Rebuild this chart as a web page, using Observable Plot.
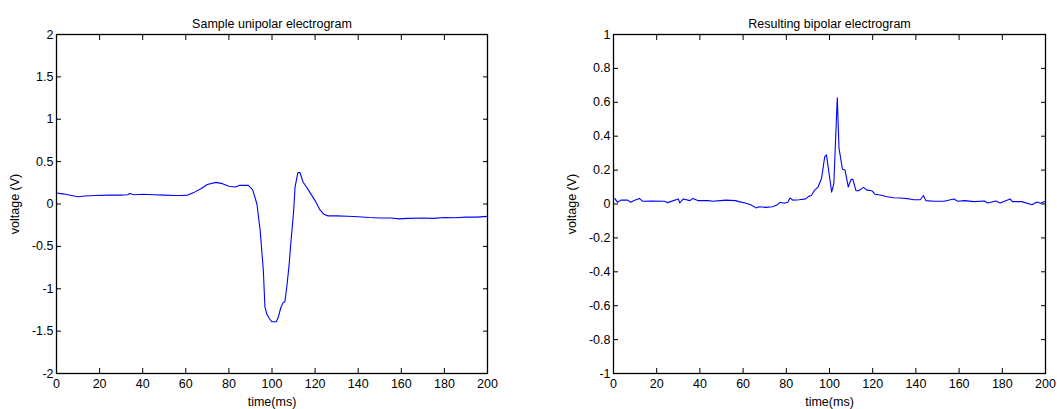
<!DOCTYPE html>
<html>
<head>
<meta charset="utf-8">
<script src="https://cdn.jsdelivr.net/npm/d3@7"></script>
<script src="https://cdn.jsdelivr.net/npm/@observablehq/plot@0.6"></script>
<style>
  html, body { margin: 0; padding: 0; background: #fff; }
  #wrap { display: flex; width: 1057px; height: 409px; }
  svg { font-family: "Liberation Sans", Arial, sans-serif; }
</style>
</head>
<body>
<div id="wrap"></div>
<script>
// ---- data ----
const uniTitle = "Sample unipolar electrogram";
const biTitle = "Resulting bipolar electrogram";
const xLabel = "time(ms)";
const yLabel = "voltage (V)";
const xTicks = [0, 20, 40, 60, 80, 100, 120, 140, 160, 180, 200];
const uniYTicks = [-2, -1.5, -1, -0.5, 0, 0.5, 1, 1.5, 2];
const biYTicks = [-1, -0.8, -0.6, -0.4, -0.2, 0, 0.2, 0.4, 0.6, 0.8, 1];

const uniTime = [0, 3, 7, 10, 13, 18, 25, 30, 33, 34, 36, 40, 45, 50, 55, 58, 61, 64, 67, 70, 74, 77, 80, 83, 85, 87, 89, 91, 93, 94.5, 96, 96.7, 97.6, 99, 100, 102, 103, 104, 105, 106, 107, 108, 108.6, 110, 110.7, 112, 113, 114.4, 116, 118, 120, 122, 124, 126, 130, 135, 140, 145, 150, 155, 159, 163, 170, 175, 180, 185, 190, 195, 200];
const uniVolt = [0.13, 0.12, 0.1, 0.085, 0.095, 0.1, 0.105, 0.105, 0.11, 0.125, 0.11, 0.115, 0.11, 0.105, 0.1, 0.1, 0.105, 0.14, 0.18, 0.23, 0.255, 0.24, 0.21, 0.2, 0.22, 0.22, 0.22, 0.17, 0.0, -0.31, -0.79, -1.21, -1.3, -1.36, -1.39, -1.39, -1.33, -1.23, -1.17, -1.15, -0.95, -0.7, -0.5, -0.1, 0.2, 0.37, 0.37, 0.26, 0.2, 0.12, 0.04, -0.06, -0.12, -0.14, -0.14, -0.145, -0.15, -0.16, -0.165, -0.165, -0.175, -0.17, -0.165, -0.17, -0.16, -0.162, -0.155, -0.155, -0.146];

const biTime = [0.6, 1.9, 3.4, 6.6, 8, 9.5, 12, 13.5, 17.5, 23.7, 25, 30, 30.7, 32.3, 35.4, 36.7, 39, 44, 46, 49.5, 52, 56.5, 58, 61, 63.5, 66, 67.4, 70.5, 73.6, 76, 77, 79, 80.7, 81.7, 83, 86, 89, 90.3, 91.6, 93, 94.7, 96.3, 97.8, 98.6, 99.8, 101, 102, 103.6, 104.4, 106, 107.2, 108.7, 110, 110.8, 112.3, 113.4, 115.8, 117.3, 119.7, 121, 123.5, 126.7, 129.8, 133, 137, 139, 142, 143.5, 144.6, 148.5, 153, 157.6, 159.4, 162.6, 167, 171.7, 173.3, 177, 179, 183.6, 184.7, 189, 193.8, 196, 197.7, 200];
const biVolt = [0.033, 0.01, 0.023, 0.023, 0.01, 0.02, 0.033, 0.016, 0.018, 0.016, 0.008, 0.03, 0.006, 0.03, 0.02, 0.033, 0.02, 0.02, 0.016, 0.02, 0.023, 0.02, 0.014, 0.006, -0.004, -0.023, -0.016, -0.02, -0.016, -0.004, 0.01, 0.004, 0.01, 0.035, 0.023, 0.025, 0.03, 0.045, 0.05, 0.08, 0.1, 0.15, 0.28, 0.29, 0.18, 0.07, 0.12, 0.626, 0.33, 0.205, 0.2, 0.1, 0.145, 0.145, 0.078, 0.078, 0.098, 0.082, 0.078, 0.058, 0.053, 0.043, 0.037, 0.035, 0.03, 0.025, 0.025, 0.05, 0.02, 0.016, 0.016, 0.03, 0.016, 0.02, 0.014, 0.018, 0.006, 0.018, 0.006, 0.03, 0.014, 0.014, -0.004, 0.012, 0.004, 0.016];

// ---- chart ----
const fmt = d => String(d);
const T = 5; // inward tick length

function panel({times, volts, yDomain, yTicks, title, width, marginLeft, marginRight}) {
  const data = times.map((t, i) => ({t, v: volts[i]}));
  return Plot.plot({
    width, height: 409,
    marginLeft, marginRight, marginTop: 34, marginBottom: 36,
    style: {fontSize: "12.5px", fontFamily: "'Liberation Sans', Arial, sans-serif", color: "#000", background: "#fff"},
    x: {domain: [0, 200]},
    y: {domain: yDomain},
    marks: [
      Plot.line(data, {x: "t", y: "v", stroke: "#0000ff", strokeWidth: 1.1}),
      // inward ticks on all four sides
      Plot.axisX(xTicks, {anchor: "bottom", tickSize: T, dy: -T, text: null, label: null, stroke: "#000"}),
      Plot.axisX(xTicks, {anchor: "top", tickSize: T, dy: T, text: null, label: null, stroke: "#000"}),
      Plot.axisY(yTicks, {anchor: "left", tickSize: T, dx: T, text: null, label: null, stroke: "#000"}),
      Plot.axisY(yTicks, {anchor: "right", tickSize: T, dx: -T, text: null, label: null, stroke: "#000"}),
      Plot.frame({stroke: "#000", strokeWidth: 1.3}),
      // labels
      Plot.axisX(xTicks, {anchor: "bottom", tickSize: 0, tickPadding: 6, tickFormat: fmt, label: xLabel, labelAnchor: "center", labelArrow: "none", labelOffset: 32, fill: "#000"}),
      Plot.axisY(yTicks, {anchor: "left", tickSize: 0, tickPadding: 3, tickFormat: fmt, label: yLabel, labelAnchor: "center", labelArrow: "none", labelOffset: 46, fill: "#000"}),
      Plot.text([title], {frameAnchor: "top", dy: -15, fill: "#000"})
    ]
  });
}

const wrap = document.getElementById("wrap");
wrap.append(panel({times: uniTime, volts: uniVolt, yDomain: [-2, 2], yTicks: uniYTicks, title: uniTitle, width: 530, marginLeft: 56, marginRight: 43}));
wrap.append(panel({times: biTime, volts: biVolt, yDomain: [-1, 1], yTicks: biYTicks, title: biTitle, width: 527, marginLeft: 83, marginRight: 12}));
</script>
</body>
</html>
